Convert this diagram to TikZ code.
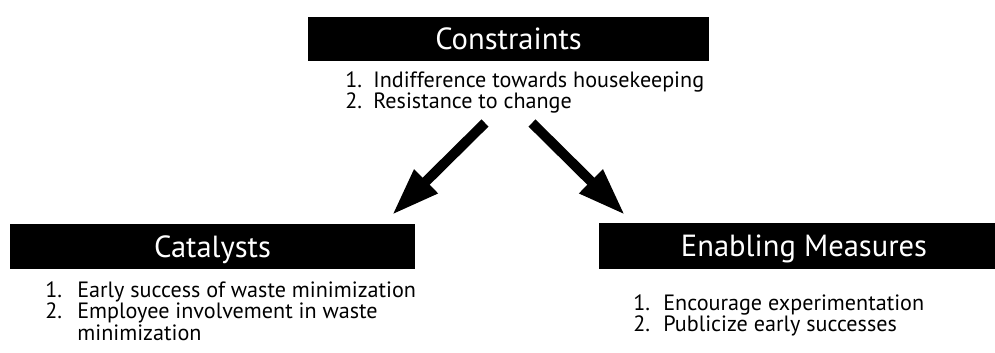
\documentclass[tikz,border=0pt]{standalone}
\usepackage{fontspec}
\setmainfont{PT Sans}
\usetikzlibrary{arrows.meta}

\begin{document}
\begin{tikzpicture}[
    x=0.02cm, y=-0.02cm,
    head/.style={fill=black, text=white, inner sep=0pt, minimum height=0.92cm,
        text height=12pt, text depth=0pt, font=\fontsize{17.4}{20}\selectfont},
    items/.style={anchor=base west, inner sep=0pt, font=\fontsize{12.6}{11.8}\selectfont},
    bigarrow/.style={-{Triangle[width=0.62cm,length=0.96cm]}, line width=0.2cm},
]

\useasboundingbox (0,0) rectangle (995,352);

% Boxes
\node[head, minimum width=8.02cm, minimum height=0.88cm] (con) at (508.5,39) {Constraints};
\node[head, minimum width=8.1cm] (cat) at (212.5,246.5) {Catalysts};
\node[head, minimum width=8.2cm] (ena) at (804,246) {Enabling Measures};

% Lists
\node[items] (conlist) at (345,87) {\begin{tabular}[t]{@{}p{0.56cm}@{}l@{}}
    1. & Indifference towards housekeeping\\
    2. & Resistance to change\end{tabular}};
\node[items] (catlist) at (45,297) {\begin{tabular}[t]{@{}p{0.64cm}@{}l@{}}
    1. & Early success of waste minimization\\
    2. & Employee involvement in waste\\
       & minimization\end{tabular}};
\node[items] (enalist) at (633,310) {\begin{tabular}[t]{@{}p{0.6cm}@{}l@{}}
    1. & Encourage experimentation\\
    2. & Publicize early successes\end{tabular}};

% Arrows
\coordinate (lfrom) at (485,123);
\coordinate (lto) at (392,215);
\coordinate (rfrom) at (532,123);
\coordinate (rto) at (625,215);
\draw[bigarrow] (lfrom) -- (lto);
\draw[bigarrow] (rfrom) -- (rto);

\end{tikzpicture}
\end{document}
